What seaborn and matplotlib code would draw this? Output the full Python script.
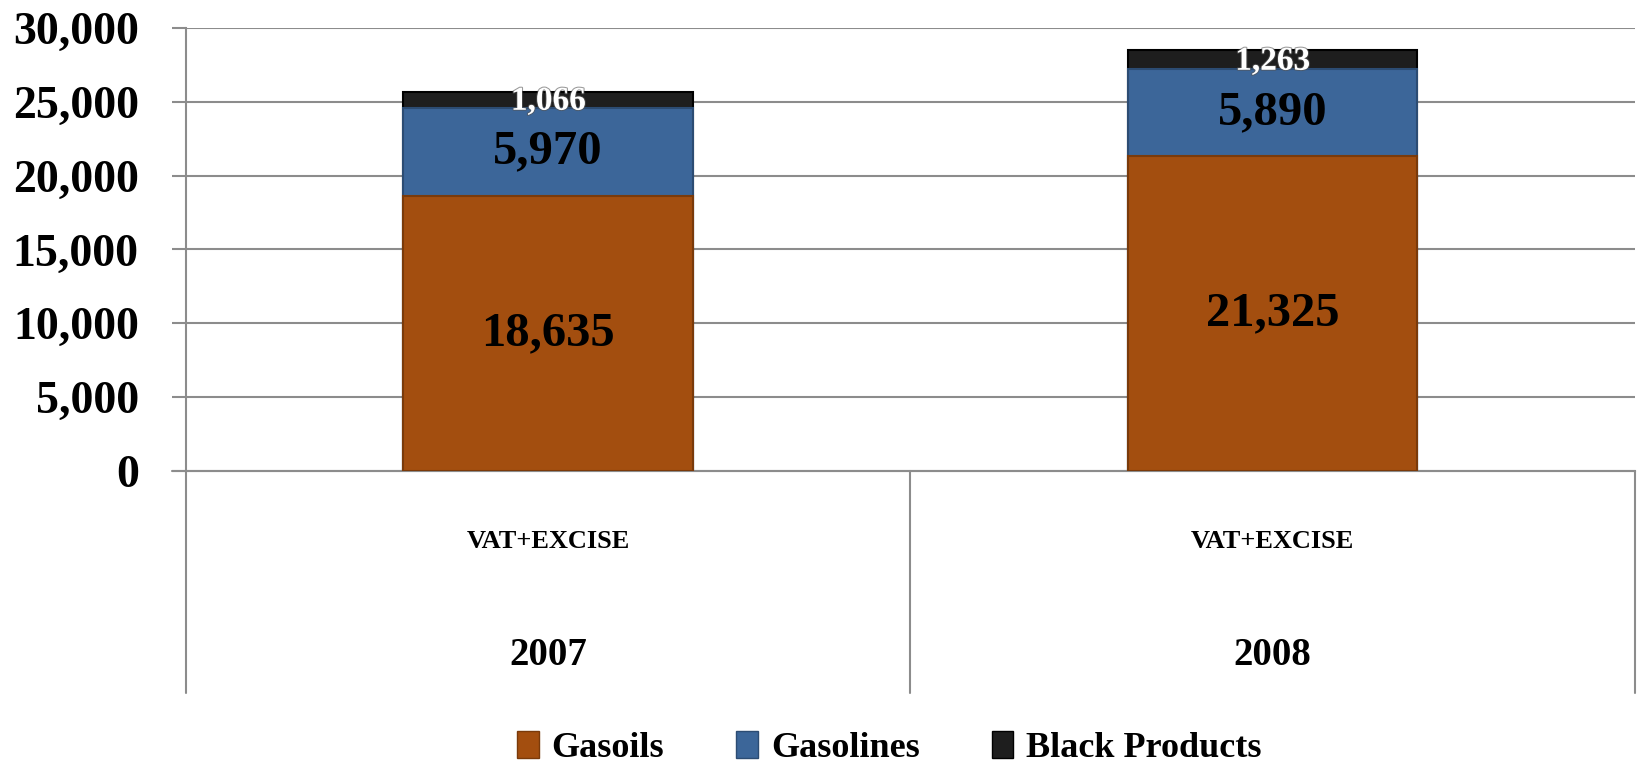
import pandas as pd
import matplotlib.pyplot as plt
import seaborn as sns
import matplotlib.patheffects as pe
from matplotlib.lines import Line2D
from matplotlib.patches import Patch

# data
years = ['2007', '2008']
group_label = 'VAT+EXCISE'
gasoils = [18635, 21325]
gasolines = [5970, 5890]
black_products = [1066, 1263]
series_names = ['Gasoils', 'Gasolines', 'Black Products']
colors = ['#A34E0F', '#3C6699', '#1E1E1E']
edges = ['#7A3A0A', '#2C4C73', '#000000']

df = pd.DataFrame({'year': years, 'Gasoils': gasoils,
                   'Gasolines': gasolines, 'Black Products': black_products})
df['cum_gas'] = df['Gasoils'] + df['Gasolines']
df['cum_all'] = df['cum_gas'] + df['Black Products']

sns.set_style("white")
plt.rcParams['font.family'] = ['Liberation Serif', 'DejaVu Serif']
plt.rcParams['font.weight'] = 'bold'
plt.rcParams['text.color'] = 'black'
plt.rcParams['ytick.labelcolor'] = 'black'

fig = plt.figure(figsize=(16.38, 7.64), dpi=100)
ax = fig.add_axes([0.1136, 0.3835, 0.8844, 0.5799])

grid_c = '#8c8c8c'
for v in [5000, 10000, 15000, 20000, 25000, 30000]:
    ax.axhline(v, color=grid_c, lw=1.5, zorder=0)

# stacked bars drawn back to front as cumulative totals
sns.barplot(data=df, x='year', y='cum_all', color=colors[2], width=0.4,
            saturation=1, ax=ax, zorder=2, edgecolor=edges[2], linewidth=1.5)
sns.barplot(data=df, x='year', y='cum_gas', color=colors[1], width=0.4,
            saturation=1, ax=ax, zorder=3, edgecolor=edges[1], linewidth=1.5)
sns.barplot(data=df, x='year', y='Gasoils', color=colors[0], width=0.4,
            saturation=1, ax=ax, zorder=4, edgecolor=edges[0], linewidth=1.5)

shadow = [pe.withStroke(linewidth=1.5, foreground='#555555', alpha=0.6)]
for i in range(len(years)):
    ax.text(i, gasoils[i] / 2, f'{gasoils[i]:,}', ha='center', va='center',
            fontsize=35, fontweight='bold', color='black', zorder=6)
    ax.text(i, gasoils[i] + gasolines[i] / 2, f'{gasolines[i]:,}', ha='center',
            va='center', fontsize=35, fontweight='bold', color='black', zorder=6)
    ax.text(i, df['cum_gas'][i] + black_products[i] / 2 - 100, f'{black_products[i]:,}',
            ha='center', va='center', fontsize=24, fontweight='bold',
            color='white', zorder=6, path_effects=shadow)

ax.set_xlim(-0.5, 1.5)
ax.set_ylim(0, 30000)
ax.set_yticks(range(0, 30001, 5000))
ax.set_yticklabels([f'{v:,}' for v in range(0, 30001, 5000)])
ax.tick_params(axis='y', length=10, width=1.5, color=grid_c, pad=24,
               labelsize=33, left=True)
ax.tick_params(axis='x', bottom=False, labelbottom=False)
ax.set_xlabel('')
ax.set_ylabel('')
for lab in ax.get_yticklabels():
    lab.set_fontweight('bold')

for s in ['top', 'right']:
    ax.spines[s].set_visible(False)
ax.spines['left'].set_color(grid_c)
ax.spines['left'].set_linewidth(1.5)
ax.spines['bottom'].set_color(grid_c)
ax.spines['bottom'].set_linewidth(1.5)

# multi-level category axis
trans = ax.get_xaxis_transform()
for xs in [-0.5, 0.5, 1.5]:
    ax.add_line(Line2D([xs, xs], [0, -0.5], transform=trans, color=grid_c,
                       lw=1.5, clip_on=False))
ax.add_line(Line2D([-0.52, 1.5], [0, 0], transform=trans, color=grid_c,
                   lw=1.5, clip_on=False))
for i, yr in enumerate(years):
    ax.text(i, -0.158, group_label, transform=trans, ha='center', va='center',
            fontsize=19, fontweight='bold')
    ax.text(i, -0.4175, yr, transform=trans, ha='center', va='center',
            fontsize=28, fontweight='bold')

handles = [Patch(facecolor=c, edgecolor=e, label=n)
           for c, e, n in zip(colors, edges, series_names)]
fig.legend(handles=handles, loc='center', bbox_to_anchor=(0.543, 0.021),
           ncol=3, frameon=False, handlelength=0.6, handleheight=0.8,
           columnspacing=2.0, handletextpad=0.35, borderpad=0.1,
           prop={'weight': 'bold', 'size': 26})

fig.savefig('out.png', dpi=100)
